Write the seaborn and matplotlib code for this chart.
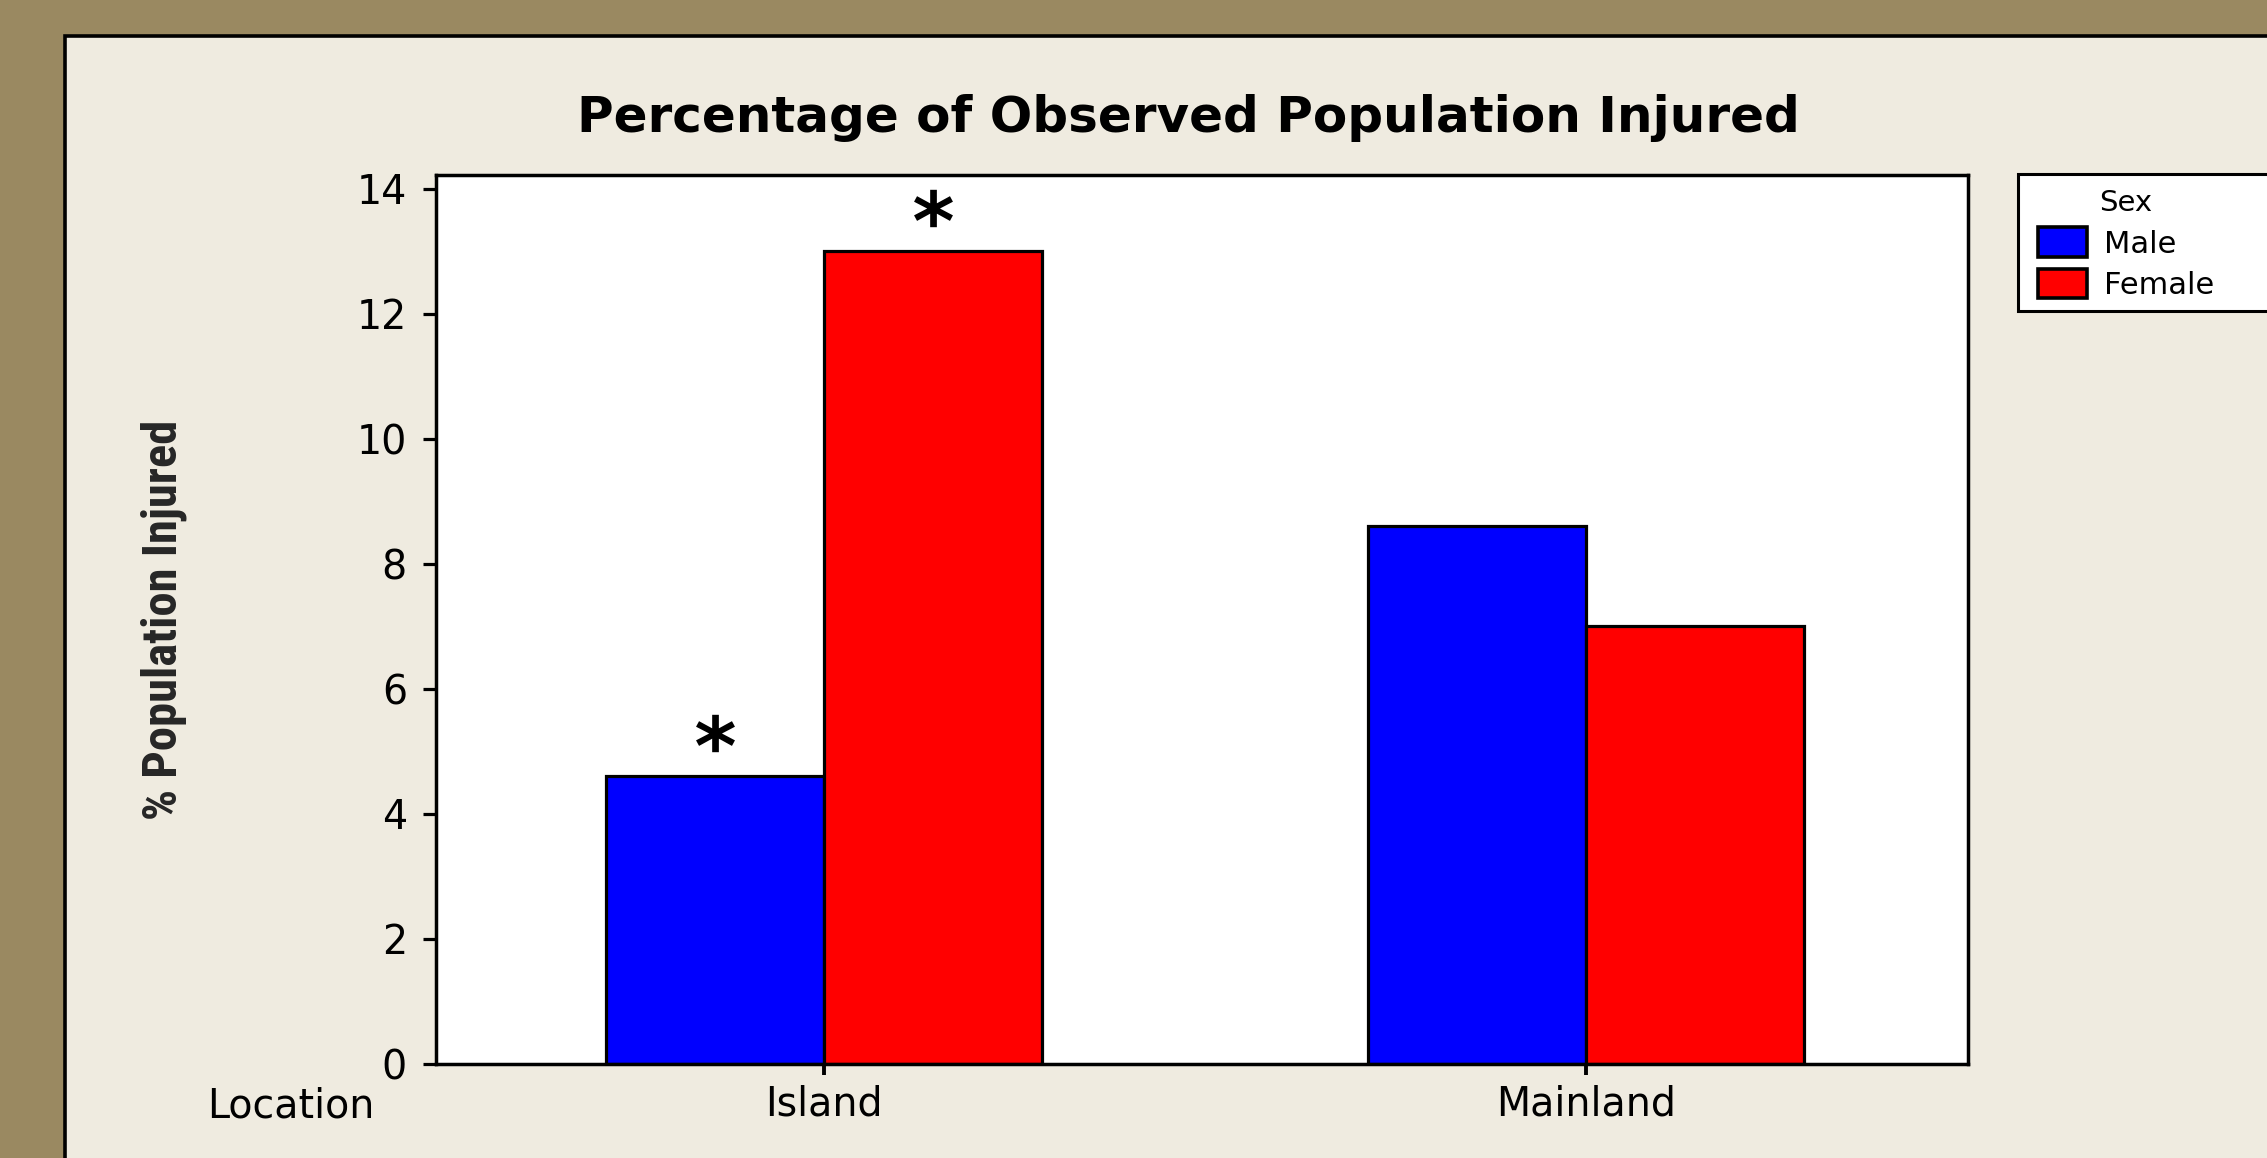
import numpy as np
import pandas as pd
import matplotlib
matplotlib.use("Agg")
import matplotlib.pyplot as plt
import seaborn as sns
from matplotlib.patches import Rectangle, Patch
from matplotlib.textpath import TextPath
from matplotlib.font_manager import FontProperties, fontManager
from matplotlib.path import Path

# ---------------- data ----------------
locations = ["Island", "Mainland"]
sexes = ["Male", "Female"]
male_pct = [4.6, 8.6]
female_pct = [13.0, 7.0]
significant_male = [True, False]
significant_female = [True, False]
y_ticks = [0, 2, 4, 6, 8, 10, 12, 14]
title = "Percentage of Observed Population Injured"
y_label = "% Population Injured"
x_label = "Location"
legend_title = "Sex"
colors = {"Male": "#0000FF", "Female": "#FF0000"}

df = pd.DataFrame({
    "Location": locations * 2,
    "Sex": ["Male"] * len(locations) + ["Female"] * len(locations),
    "Percent": male_pct + female_pct,
})

# ---------------- style ----------------
sns.set_theme(style="white")
plt.rcParams["font.family"] = ["DejaVu Sans"]
plt.rcParams["text.color"] = "black"

# narrow bold font for the y label if one is installed
available = {f.name for f in fontManager.ttflist}
narrow_choices = ["Liberation Sans Narrow", "DejaVu Sans Condensed", "Roboto Condensed",
                  "Open Sans Condensed", "Noto Sans Condensed", "Arial Narrow"]
narrow = next((n for n in narrow_choices if n in available), None)
if narrow is not None:
    ylab_family, ylab_size = [narrow, "DejaVu Sans"], 35
else:
    ylab_family, ylab_size = ["DejaVu Sans"], 24.5

W, H = 2267, 1158
fig = plt.figure(figsize=(W / 100, H / 100), dpi=100)
fig.patch.set_facecolor("#9A8961")

# beige panel
panel = Rectangle((65 / W, -0.1), 1.2, (H - 36) / H + 0.1, transform=fig.transFigure,
                  facecolor="#EFEBE0", edgecolor="black", linewidth=2.6, zorder=-1)
fig.add_artist(panel)

ax = fig.add_axes([436 / W, (H - 1064) / H, (1968 - 436) / W, (1064 - 175) / H])
ax.set_facecolor("white")
sns.barplot(data=df, x="Location", y="Percent", hue="Sex", order=locations,
            hue_order=sexes, palette=colors, saturation=1, width=0.572,
            edgecolor="black", linewidth=2.3, errorbar=None, legend=False, ax=ax)

ax.set_xlim(-0.509, 1.501)
ax.set_ylim(0, 14.22)
ax.set_yticks(y_ticks)
ax.set_xlabel("")
ax.set_ylabel(y_label, fontsize=ylab_size, fontweight="bold", family=ylab_family)
ax.yaxis.set_label_coords((187 - 436) / (1968 - 436), 0.5)

for s in ax.spines.values():
    s.set_visible(True)
    s.set_color("black")
    s.set_linewidth(2.5)

ax.tick_params(axis="y", direction="out", length=9.4, width=2.3, pad=11.5,
               labelsize=28.5, left=True, colors="black")
ax.tick_params(axis="x", direction="out", length=8, width=2.8, pad=7,
               labelsize=28.5, bottom=True, colors="black")

# asterisk markers for significant bars
tp = TextPath((0, 0), "*", prop=FontProperties(family="DejaVu Sans", weight="bold"))
verts = tp.vertices.copy()
codes = tp.codes.copy()
mask = codes != Path.CLOSEPOLY
ctr = (verts[mask].min(axis=0) + verts[mask].max(axis=0)) / 2
verts[~mask] = ctr
star = Path(verts - ctr, codes)
star_offset = 0.70
for cont, sig in zip(ax.containers, [significant_male, significant_female]):
    for bar, flag in zip(cont, sig):
        if flag:
            ax.plot(bar.get_x() + bar.get_width() / 2, bar.get_height() + star_offset,
                    marker=star, markersize=28, color="black", markeredgewidth=0,
                    clip_on=False)

# title and axis caption
fig.text(1188 / W, (H - 132) / H, title, ha="center", va="baseline",
         fontsize=36, fontweight="bold")
fig.text(207 / W, (H - 1117) / H, x_label, ha="left", va="baseline", fontsize=28.5)

# legend
frame = Rectangle((2018 / W, (H - 311) / H), (2300 - 2018) / W, (311 - 174) / H,
                  transform=fig.transFigure, facecolor="white", edgecolor="black",
                  linewidth=2.2, zorder=2)
fig.add_artist(frame)
handles = [Patch(facecolor=colors[s], edgecolor="black", linewidth=2.6) for s in sexes]
leg = fig.legend(handles, sexes, title=legend_title, loc="upper left",
                 bbox_to_anchor=(2038 / W, (H - 189) / H), frameon=False,
                 fontsize=22, title_fontsize=21, handlelength=1.6, handleheight=1.11,
                 handletextpad=0.56, labelspacing=0.34, borderpad=0, borderaxespad=0)
leg.set_zorder(5)

fig.savefig("out.png", dpi=100, facecolor=fig.get_facecolor())
